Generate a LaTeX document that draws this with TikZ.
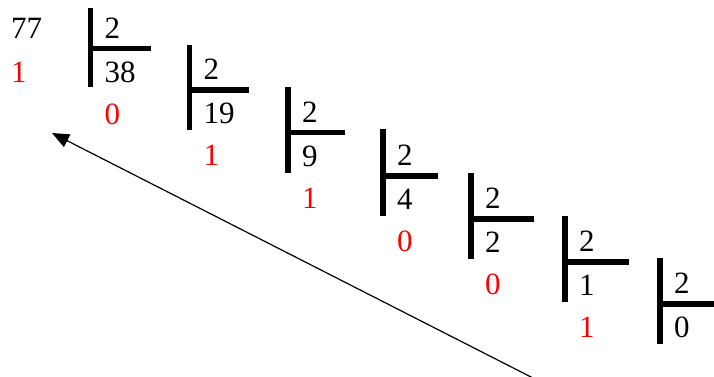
\documentclass[tikz,border=0pt]{standalone}
\usepackage{fontspec}
\setmainfont{Liberation Serif}
\usetikzlibrary{arrows.meta}
\begin{document}
\begin{tikzpicture}[x=1pt,y=-1pt,
  num/.style={anchor=base west,inner sep=0pt,font=\fontsize{31}{31}\selectfont},
  rem/.style={num,text=red},
  bar/.style={line width=5.5pt},
  arr/.style={line width=1.2pt,-{Triangle[length=17pt,width=14pt]}}]
\useasboundingbox (0,0) rectangle (714,376);
\node[num] (n77) at (11,38) {77};
\node[rem] (r0) at (11,82) {1};
\foreach \i/\x/\h/\t/\b/\r/\q/\m in {
  1/90.5/48.5/8/87/151/38/0,
  2/189.5/90/45/130/249/19/1,
  3/288/132.5/87/173/345/9/1,
  4/383/176/129/216/438/4/0,
  5/471/219/173/259/534/2/0,
  6/565/262/216/302/629/1/1}{
  \draw[bar] (\x,\t) -- (\x,\b) (\x,\h) -- (\r,\h);
  \node[num] (d\i) at (\x+14,\h-10.5) {2};
  \node[num] (q\i) at (\x+14,\h+33.5) {\q};
  \node[rem] (r\i) at (\x+14,\h+75.5) {\m};
}
\draw[bar] (660,258) -- (660,344) (660,304) -- (714,304);
\node[num] (d7) at (674,293.5) {2};
\node[num] (q7) at (674,337.5) {0};
\coordinate (s) at (533,378);
\coordinate (e) at (52,133);
\draw[arr] (s) -- (e);
\end{tikzpicture}
\end{document}
